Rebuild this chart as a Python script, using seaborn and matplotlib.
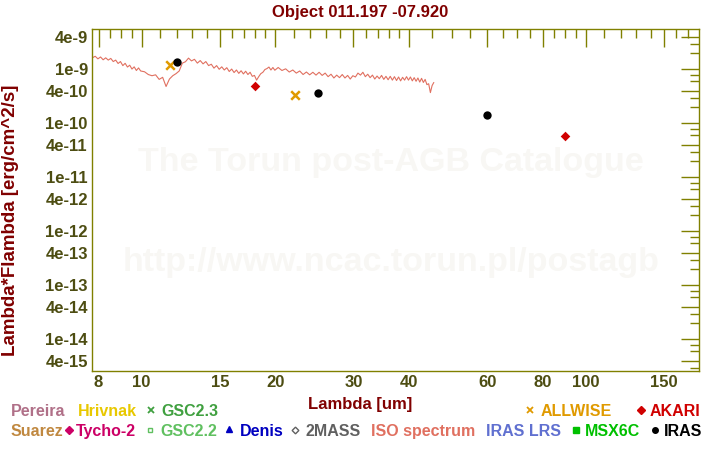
import matplotlib
matplotlib.use("Agg")
import matplotlib.pyplot as plt
from matplotlib.lines import Line2D
from matplotlib.ticker import FixedLocator, FixedFormatter, NullFormatter
import pandas as pd
import seaborn as sns

# ---------------- data ----------------
title = "Object 011.197 -07.920"
x_label = "Lambda [um]"
y_label = "Lambda*Flambda [erg/cm^2/s]"
watermark_lines = ["The Torun post-AGB Catalogue", "http://www.ncac.torun.pl/postagb"]

x_tick_values = [8, 10, 15, 20, 30, 40, 60, 80, 100, 150]
x_tick_labels = ["8", "10", "15", "20", "30", "40", "60", "80", "100", "150"]
x_minor_values = [8.5, 9, 9.5, 11, 12, 13, 14, 16, 17, 18, 19, 22, 24, 26, 28,
                  32, 34, 36, 38, 45, 50, 55, 65, 70, 75, 85, 90, 95,
                  110, 120, 130, 140, 160, 170]
y_tick_values = [4e-9, 1e-9, 4e-10, 1e-10, 4e-11, 1e-11, 4e-12, 1e-12,
                 4e-13, 1e-13, 4e-14, 1e-14, 4e-15]
y_tick_labels = ["4e-9", "1e-9", "4e-10", "1e-10", "4e-11", "1e-11", "4e-12",
                 "1e-12", "4e-13", "1e-13", "4e-14", "1e-14", "4e-15"]
y_minor_values = [3e-9, 2e-9, 8e-10, 6e-10, 3e-10, 2e-10, 8e-11, 6e-11, 3e-11,
                  2e-11, 8e-12, 6e-12, 3e-12, 2e-12, 8e-13, 6e-13, 3e-13, 2e-13,
                  8e-14, 6e-14, 3e-14, 2e-14, 8e-15, 6e-15, 3e-15]

# ISO spectrum (wavelength in um, flux in units of 1e-10 erg/cm^2/s)
iso_wavelength = [
    7.75, 7.86, 7.97, 8.08, 8.19, 8.30, 8.41, 8.52, 8.63, 8.74, 8.85, 8.96,
    9.07, 9.18, 9.29, 9.40, 9.51, 9.62, 9.73, 9.84, 9.95,
    10.15, 10.35, 10.55, 10.75, 10.95, 11.15, 11.35, 11.55, 11.75, 11.95,
    12.15, 12.35, 12.55, 12.75, 12.95, 13.15, 13.35, 13.55, 13.75, 13.95,
    14.15, 14.35, 14.55, 14.75, 14.95, 15.15, 15.35, 15.55, 15.75, 15.95,
    16.15, 16.35, 16.55, 16.75, 16.95, 17.15, 17.35, 17.55, 17.75, 17.95,
    18.15, 18.35, 18.55, 18.75, 18.95, 19.15, 19.35, 19.55, 19.75, 19.95,
    20.3, 20.7, 21.1, 21.5, 21.9, 22.3, 22.7, 23.1, 23.5, 23.9, 24.3, 24.7,
    25.1, 25.5, 25.9, 26.3, 26.7, 27.1, 27.5, 27.9, 28.3, 28.7, 29.1, 29.5,
    29.9, 30.3, 30.7, 31.1, 31.5, 31.9, 32.3, 32.7, 33.1, 33.5, 33.9, 34.3,
    34.7, 35.1, 35.5, 35.9, 36.3, 36.7, 37.1, 37.5, 37.9, 38.3, 38.7, 39.1,
    39.5, 39.9, 40.3, 40.7, 41.1, 41.5, 41.9, 42.3, 42.7, 43.1, 43.5, 43.9,
    44.3, 44.7, 45.1, 45.5]
iso_flux_e10 = [
    16.4, 17.4, 15.6, 16.9, 15.0, 16.3, 14.8, 15.9, 13.9, 14.8, 12.8, 13.9,
    11.7, 12.9, 11.0, 11.9, 10.1, 11.1, 9.5, 10.6, 9.3,
    9.0, 8.0, 7.6, 7.9, 6.5, 7.1, 4.8, 6.6, 7.6, 8.3,
    9.3, 13.0, 13.8, 16.1, 14.3, 15.3, 13.0, 14.5, 12.6, 13.9,
    11.7, 12.4, 10.5, 11.7, 10.0, 11.1, 9.7, 10.7, 9.1, 10.1,
    8.7, 9.7, 8.4, 9.4, 8.2, 9.2, 8.0, 8.8, 7.4, 7.7,
    6.3, 7.3, 8.3, 8.8, 9.9, 10.3, 11.0, 9.7, 10.8, 9.6,
    10.8, 9.5, 10.2, 8.9, 9.7, 8.5, 9.3, 8.0, 8.9, 7.9, 8.8, 7.8,
    8.8, 7.7, 8.5, 7.3, 8.1, 6.9, 7.8, 7.0, 8.0, 6.9, 7.7, 6.6,
    7.6, 7.2, 8.5, 7.8, 8.8, 7.3, 8.1, 7.0, 7.8, 6.6, 7.5, 6.7,
    7.7, 6.5, 7.4, 6.4, 7.4, 6.3, 7.3, 6.2, 7.2, 6.1, 7.1, 6.3,
    7.3, 6.3, 7.2, 6.1, 7.0, 6.0, 6.9, 5.8, 6.8, 5.7, 6.5, 5.2,
    5.4, 3.7, 5.0, 5.7]

allwise_wavelength = [11.6, 22.1]
allwise_flux = [1.22e-9, 3.4e-10]
akari_wavelength = [18.0, 90.0]
akari_flux = [4.8e-10, 5.7e-11]
iras_wavelength = [12.0, 25.0, 60.0]
iras_flux = [1.39e-9, 3.7e-10, 1.45e-10]

legend_row1 = ["Pereira", "Hrivnak", "GSC2.3", "ALLWISE", "AKARI"]
legend_row2 = ["Suarez", "Tycho-2", "GSC2.2", "Denis", "2MASS",
               "ISO spectrum", "IRAS LRS", "MSX6C", "IRAS"]

# ---------------- style ----------------
sns.set_theme(style="white")
plt.rcParams["font.family"] = ["Liberation Sans", "DejaVu Sans"]
plt.rcParams["font.weight"] = "bold"

OLIVE = "#808000"
TICKTXT = "#4d4d12"
DARKRED = "#800000"
colors = {
    "Pereira": "#b07088", "Hrivnak": "#e8c800", "GSC2.3": "#40a040",
    "ALLWISE": "#e09a00", "AKARI": "#d00000", "Suarez": "#c08840",
    "Tycho-2": "#cc0066", "GSC2.2": "#60c060", "Denis": "#0000c0",
    "2MASS": "#606060", "ISO spectrum": "#e07060", "IRAS LRS": "#6070d0",
    "MSX6C": "#00c000", "IRAS": "#000000",
}

W, H = 720, 450
fig = plt.figure(figsize=(W / 100, H / 100), dpi=100)
fig.patch.set_facecolor("white")
L, R, T, B = 92, 699, 29.3, 371
ax = fig.add_axes([L / W, 1 - B / H, (R - L) / W, (B - T) / H])
ax.set_facecolor("white")

# watermark
for txt, yp in zip(watermark_lines, [163, 262]):
    fig.text(391 / W, 1 - yp / H, txt, ha="center", va="center",
             fontsize=24.5, fontweight="bold", color="#f8f7f4", zorder=0)

iso_df = pd.DataFrame({"lam": iso_wavelength,
                       "flux": [v * 1e-10 for v in iso_flux_e10]})
sns.lineplot(data=iso_df, x="lam", y="flux", ax=ax, color=colors["ISO spectrum"],
             linewidth=0.8, estimator=None, sort=False)

sns.scatterplot(x=allwise_wavelength, y=allwise_flux, ax=ax, marker="x",
                color=colors["ALLWISE"], s=38, linewidth=1.8, zorder=5)
sns.scatterplot(x=akari_wavelength, y=akari_flux, ax=ax, marker="D",
                color=colors["AKARI"], s=24, linewidth=0, zorder=5)
sns.scatterplot(x=iras_wavelength, y=iras_flux, ax=ax, marker="o",
                color=colors["IRAS"], s=36, linewidth=0, zorder=5)

ax.set_xscale("log")
ax.set_yscale("log")
ax.set_xlim(7.73, 180.0)
ax.set_ylim(2.59e-15, 5.50e-9)

ax.xaxis.set_major_locator(FixedLocator(x_tick_values))
ax.xaxis.set_major_formatter(FixedFormatter(x_tick_labels))
ax.xaxis.set_minor_locator(FixedLocator(x_minor_values))
ax.xaxis.set_minor_formatter(NullFormatter())
ax.yaxis.set_major_locator(FixedLocator(y_tick_values))
ax.yaxis.set_major_formatter(FixedFormatter(y_tick_labels))
ax.yaxis.set_minor_locator(FixedLocator(y_minor_values))
ax.yaxis.set_minor_formatter(NullFormatter())

ax.tick_params(which="both", direction="in", top=True, right=True,
               color=OLIVE, width=1.0, labelcolor=TICKTXT, labelsize=12, pad=3)
ax.tick_params(which="major", length=13)
ax.tick_params(which="minor", length=6.5)
for lab in ax.get_xticklabels() + ax.get_yticklabels():
    lab.set_fontweight("bold")
for sp in ax.spines.values():
    sp.set_color(OLIVE)
    sp.set_linewidth(1.0)
ax.set_xlabel("")
ax.set_ylabel("")
ax.grid(False)

fig.text(360 / W, 1 - 12 / H, title, ha="center", va="center",
         fontsize=12, fontweight="bold", color=DARKRED)
fig.text(360.5 / W, 1 - 405 / H, x_label, ha="center", va="center",
         fontsize=12, fontweight="bold", color=DARKRED)
fig.text(10.5 / W, 1 - 220.5 / H, y_label, ha="center", va="center",
         rotation=90, fontsize=13.5, fontweight="bold", color=DARKRED)

# bottom legend text
row1_x = [11, 78, 161, 541, 650]
row2_x = [11, 76, 160, 240, 305, 371, 486, 585, 664]
for lab, xp in zip(legend_row1, row1_x):
    fig.text(xp / W, 1 - 416 / H, lab, ha="left", va="baseline", fontsize=11.5,
             fontweight="bold", color=colors[lab])
for lab, xp in zip(legend_row2, row2_x):
    fig.text(xp / W, 1 - 436 / H, lab, ha="left", va="baseline", fontsize=11.5,
             fontweight="bold", color=colors[lab])

legend_markers = [
    ("GSC2.3", 151, 410, "x", True, 4.0),
    ("ALLWISE", 530, 410, "x", True, 5.0),
    ("AKARI", 641, 410, "D", True, 3.6),
    ("Tycho-2", 69, 430, "D", True, 3.6),
    ("GSC2.2", 150, 430, "s", False, 3.2),
    ("Denis", 229, 429, "^", True, 4.2),
    ("2MASS", 295, 430, "D", False, 3.4),
    ("MSX6C", 576, 430, "s", True, 4.0),
    ("IRAS", 655, 430, "o", True, 4.0),
]
for name, xp, yp, mk, filled, ms in legend_markers:
    c = colors[name]
    fig.add_artist(Line2D([xp / W], [1 - yp / H], transform=fig.transFigure,
                          marker=mk, markersize=ms, linestyle="none",
                          color=c, markerfacecolor=c if filled else "white",
                          markeredgecolor=c, markeredgewidth=1.0 if mk != "x" else 1.3))

fig.savefig("out.png", dpi=100, facecolor="white")
